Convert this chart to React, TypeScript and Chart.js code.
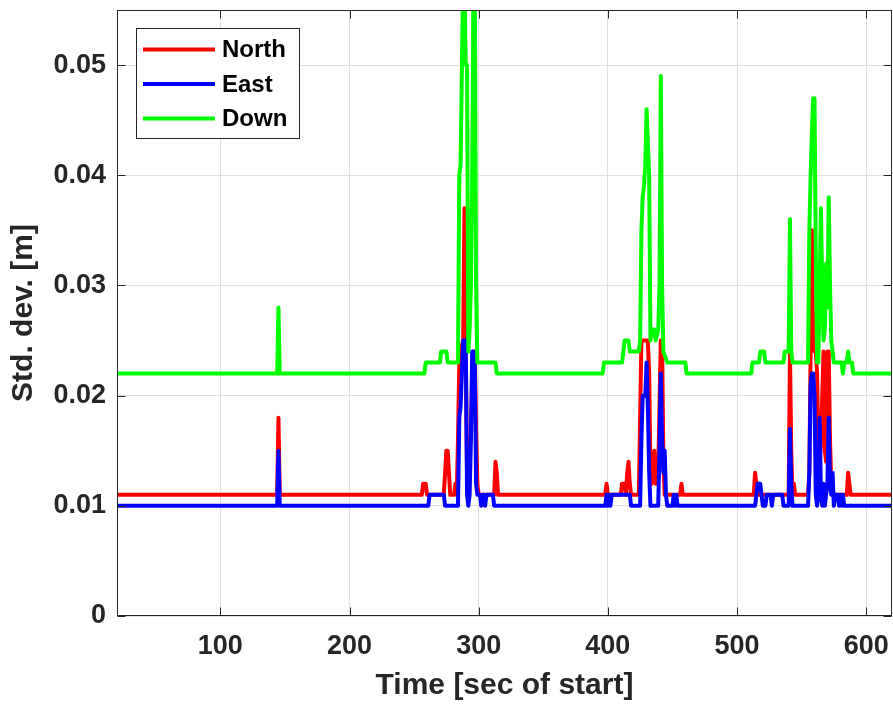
import React, { useEffect, useRef } from "react";
import { Chart, registerables } from "chart.js";

Chart.register(...registerables);

const seriesLabels = ["North", "East", "Down"];
const seriesColors = ["#ff0000", "#0000ff", "#00ff00"];
const xTickValues = [100, 200, 300, 400, 500, 600];
const yTickValues = [0, 0.01, 0.02, 0.03, 0.04, 0.05];
const xTitle = "Time [sec of start]";
const yTitle = "Std. dev. [m]";

const northX = [20, 144, 145, 146, 256, 257, 259, 260, 273, 274, 275, 276, 277, 278, 281, 282, 283, 284, 285, 286, 288, 289, 290, 291, 292, 293, 294, 295, 296, 297, 298, 299, 300, 312, 313, 314, 315, 398, 399, 400, 410, 411, 413, 414, 415, 416, 417, 418, 424, 426, 431, 432, 433, 434, 436, 437, 439, 441, 442, 443, 444, 456, 457, 458, 513, 514, 515, 516, 540, 541, 542, 543, 544, 545, 555, 556, 557, 558, 559, 560, 561, 562, 563, 564, 565, 566, 567, 568, 569, 570, 571, 572, 573, 574, 585, 586, 587, 588, 620];
const northY = [0.011, 0.011, 0.018, 0.011, 0.011, 0.012, 0.012, 0.011, 0.011, 0.013, 0.015, 0.015, 0.013, 0.011, 0.011, 0.012, 0.011, 0.016, 0.023, 0.024, 0.025, 0.037, 0.024, 0.013, 0.011, 0.016, 0.016, 0.022, 0.024, 0.024, 0.017, 0.012, 0.011, 0.011, 0.014, 0.013, 0.011, 0.011, 0.012, 0.011, 0.011, 0.012, 0.012, 0.011, 0.013, 0.014, 0.012, 0.011, 0.011, 0.025, 0.025, 0.022, 0.013, 0.012, 0.015, 0.012, 0.013, 0.025, 0.025, 0.014, 0.011, 0.011, 0.012, 0.011, 0.011, 0.013, 0.012, 0.011, 0.011, 0.024, 0.015, 0.011, 0.012, 0.011, 0.011, 0.013, 0.024, 0.035, 0.025, 0.024, 0.024, 0.022, 0.015, 0.014, 0.016, 0.020, 0.024, 0.015, 0.014, 0.024, 0.024, 0.016, 0.012, 0.011, 0.011, 0.013, 0.012, 0.011, 0.011];

const eastX = [20, 144, 145, 146, 261, 262, 273, 274, 284, 285, 286, 288, 290, 291, 292, 293, 294, 295, 296, 297, 298, 299, 301, 302, 303, 304, 305, 306, 311, 312, 398, 399, 400, 401, 402, 403, 417, 418, 425, 426, 427, 429, 430, 431, 432, 433, 439, 440, 441, 442, 443, 444, 445, 446, 450, 451, 452, 453, 454, 514, 515, 516, 518, 519, 520, 522, 523, 526, 527, 528, 535, 536, 540, 541, 542, 543, 555, 556, 557, 558, 559, 560, 561, 562, 563, 564, 565, 566, 567, 568, 569, 570, 571, 572, 573, 574, 575, 576, 578, 579, 580, 581, 582, 583, 620];
const eastY = [0.010, 0.010, 0.015, 0.010, 0.010, 0.011, 0.011, 0.010, 0.010, 0.018, 0.019, 0.025, 0.025, 0.011, 0.010, 0.011, 0.016, 0.024, 0.024, 0.023, 0.012, 0.011, 0.011, 0.010, 0.011, 0.011, 0.010, 0.011, 0.011, 0.010, 0.010, 0.011, 0.010, 0.011, 0.010, 0.011, 0.011, 0.010, 0.010, 0.016, 0.020, 0.020, 0.023, 0.019, 0.013, 0.010, 0.010, 0.015, 0.022, 0.016, 0.013, 0.015, 0.011, 0.010, 0.010, 0.011, 0.010, 0.011, 0.010, 0.010, 0.011, 0.012, 0.012, 0.011, 0.010, 0.010, 0.011, 0.011, 0.010, 0.011, 0.011, 0.010, 0.010, 0.017, 0.012, 0.010, 0.010, 0.013, 0.021, 0.022, 0.022, 0.020, 0.011, 0.010, 0.011, 0.018, 0.011, 0.010, 0.012, 0.010, 0.011, 0.012, 0.018, 0.012, 0.011, 0.013, 0.010, 0.011, 0.011, 0.010, 0.011, 0.010, 0.011, 0.010, 0.010];

const downX = [20, 144, 145, 146, 258, 259, 270, 271, 275, 276, 284, 285, 286, 288, 289, 290, 291, 292, 293, 294, 295, 296, 297, 298, 299, 313, 314, 396, 397, 411, 412, 413, 416, 417, 424, 425, 426, 427, 428, 429, 430, 431, 432, 433, 434, 436, 437, 439, 440, 441, 442, 443, 446, 460, 461, 511, 512, 517, 518, 521, 522, 536, 537, 540, 541, 542, 543, 555, 556, 557, 558, 559, 560, 561, 562, 563, 564, 565, 566, 567, 568, 569, 570, 571, 572, 573, 574, 575, 581, 582, 583, 585, 586, 587, 589, 590, 620];
const downY = [0.022, 0.022, 0.028, 0.022, 0.022, 0.023, 0.023, 0.024, 0.024, 0.023, 0.023, 0.040, 0.041, 0.058, 0.058, 0.050, 0.050, 0.024, 0.026, 0.030, 0.040, 0.058, 0.058, 0.030, 0.023, 0.023, 0.022, 0.022, 0.023, 0.023, 0.024, 0.025, 0.025, 0.024, 0.024, 0.025, 0.035, 0.038, 0.039, 0.041, 0.046, 0.043, 0.040, 0.025, 0.026, 0.026, 0.025, 0.026, 0.030, 0.049, 0.030, 0.024, 0.023, 0.023, 0.022, 0.022, 0.023, 0.023, 0.024, 0.024, 0.023, 0.023, 0.024, 0.024, 0.036, 0.024, 0.023, 0.023, 0.035, 0.040, 0.044, 0.047, 0.047, 0.033, 0.023, 0.023, 0.030, 0.037, 0.030, 0.025, 0.026, 0.032, 0.028, 0.038, 0.030, 0.025, 0.024, 0.023, 0.023, 0.022, 0.023, 0.023, 0.024, 0.023, 0.023, 0.022, 0.022];

const X_MIN = 20;
const X_MAX = 620;
const Y_MIN = 0;
const Y_MAX = 0.055;

const FONT = "'Liberation Sans', Arial, Helvetica, sans-serif";
const AXIS_COLOR = "#262626";

function toPoints(xs: number[], ys: number[]) {
  return xs.map((x, i) => ({ x, y: ys[i] }));
}

const framePlugin = {
  id: "matlabFrame",
  afterDraw(chart: any) {
    const { ctx, chartArea } = chart;
    const { left, right, top, bottom } = chartArea;
    const xs = chart.scales.x;
    const ys = chart.scales.y;
    ctx.save();
    ctx.strokeStyle = AXIS_COLOR;
    ctx.lineWidth = 1;
    const L = Math.round(left) + 0.5;
    const R = Math.round(right) - 0.5;
    const T = Math.round(top) + 0.5;
    const B = Math.round(bottom) - 0.5;
    ctx.strokeRect(L, T, R - L, B - T);
    const tl = 8;
    ctx.beginPath();
    xTickValues.forEach((v) => {
      const p = Math.round(xs.getPixelForValue(v)) + 0.5;
      ctx.moveTo(p, B);
      ctx.lineTo(p, B - tl);
      ctx.moveTo(p, T);
      ctx.lineTo(p, T + tl);
    });
    yTickValues.forEach((v) => {
      const p = Math.round(ys.getPixelForValue(v)) + 0.5;
      ctx.moveTo(L, p);
      ctx.lineTo(L + tl, p);
      ctx.moveTo(R, p);
      ctx.lineTo(R - tl, p);
    });
    ctx.stroke();

    // legend box
    const bx = 136.5;
    const by = 28.5;
    const bw = 163;
    const bh = 110;
    ctx.fillStyle = "#ffffff";
    ctx.fillRect(bx, by, bw, bh);
    ctx.strokeStyle = AXIS_COLOR;
    ctx.strokeRect(bx, by, bw, bh);
    const rowY = [49.5, 84, 118.5];
    ctx.font = `bold 24px ${FONT}`;
    ctx.textBaseline = "middle";
    ctx.textAlign = "left";
    chart.data.datasets.forEach((ds: any, i: number) => {
      const y = rowY[i];
      ctx.strokeStyle = ds.borderColor;
      ctx.lineWidth = 4;
      ctx.beginPath();
      ctx.moveTo(143, y);
      ctx.lineTo(215, y);
      ctx.stroke();
      ctx.fillStyle = "#000000";
      ctx.fillText(ds.label, 222, y + 1);
    });
    ctx.restore();
  },
};

export default function App() {
  const canvasRef = useRef<HTMLCanvasElement | null>(null);

  useEffect(() => {
    document.body.style.margin = "0";
    const canvas = canvasRef.current;
    if (!canvas) return;
    const seriesX = [northX, eastX, downX];
    const seriesY = [northY, eastY, downY];
    const chart = new Chart(canvas, {
      type: "line",
      data: {
        datasets: seriesLabels.map((label, i) => ({
          label,
          data: toPoints(seriesX[i], seriesY[i]),
          borderColor: seriesColors[i],
          backgroundColor: seriesColors[i],
          borderWidth: 4,
          pointRadius: 0,
          pointHoverRadius: 0,
          tension: 0,
          fill: false,
          borderJoinStyle: "round" as const,
          borderCapStyle: "round" as const,
          clip: 0,
          order: 3 - i,
        })),
      },
      plugins: [framePlugin],
      options: {
        animation: false,
        responsive: true,
        maintainAspectRatio: false,
        events: [],
        layout: { padding: { top: 10, right: 1, left: 0, bottom: 0 } },
        plugins: {
          legend: { display: false },
          tooltip: { enabled: false },
          title: { display: false },
        },
        scales: {
          x: {
            type: "linear",
            min: X_MIN,
            max: X_MAX,
            afterBuildTicks: (scale: any) => {
              scale.ticks = xTickValues.map((v) => ({ value: v }));
            },
            afterFit: (scale: any) => {
              scale.height = 88;
              scale.paddingLeft = 0;
              scale.paddingRight = 0;
              scale.paddingTop = 0;
              scale.paddingBottom = 0;
            },
            grid: { color: "#dfdfdf", lineWidth: 1, drawTicks: false },
            border: { display: false },
            ticks: {
              autoSkip: false,
              maxRotation: 0,
              padding: 14,
              color: AXIS_COLOR,
              font: { family: FONT, size: 27, weight: "bold" },
              callback: (v: any) => String(v),
            },
            title: {
              display: true,
              text: xTitle,
              color: AXIS_COLOR,
              font: { family: FONT, size: 30, weight: "bold" },
              padding: { top: 0, bottom: 0 },
            },
          },
          y: {
            type: "linear",
            min: Y_MIN,
            max: Y_MAX,
            afterBuildTicks: (scale: any) => {
              scale.ticks = yTickValues.map((v) => ({ value: v }));
            },
            afterFit: (scale: any) => {
              scale.width = 117;
              scale.paddingLeft = 0;
              scale.paddingRight = 0;
              scale.paddingTop = 0;
              scale.paddingBottom = 0;
            },
            grid: { color: "#dfdfdf", lineWidth: 1, drawTicks: false },
            border: { display: false },
            ticks: {
              autoSkip: false,
              padding: 11,
              color: AXIS_COLOR,
              font: { family: FONT, size: 27, weight: "bold" },
              callback: (v: any) => String(Number(Number(v).toFixed(3))),
            },
            title: {
              display: true,
              text: yTitle,
              color: AXIS_COLOR,
              font: { family: FONT, size: 30, weight: "bold" },
              padding: { top: 6, bottom: 0 },
            },
          },
        },
      },
    });
    return () => chart.destroy();
  }, []);

  return (
    <div style={{ position: "fixed", left: 0, top: 0, width: 893, height: 704, background: "#ffffff" }}>
      <canvas ref={canvasRef} />
    </div>
  );
}
